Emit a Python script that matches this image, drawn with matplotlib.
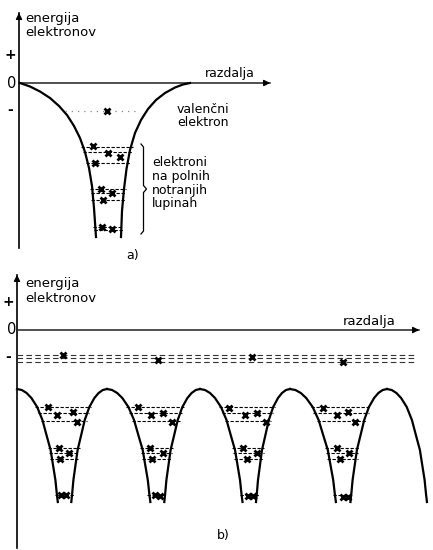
import numpy as np
import matplotlib
matplotlib.use("Agg")
import matplotlib.pyplot as plt

# ---------------- data (distance units, energy units; 0 = zero energy) ----------------
# panel a: single atom potential well
a_left_d = [0.1, 1.1, 2.1, 3.1, 4.0, 4.8, 5.5, 6.1, 6.6, 7.0, 7.3, 7.5, 7.7]
a_left_E = [0.0, -0.35, -0.85, -1.5, -2.3, -3.2, -4.3, -5.5, -6.9, -8.5, -10.3, -12.5, -15.4]
a_right_d = [10.2, 10.3, 10.5, 10.75, 11.1, 11.6, 12.2, 12.9, 13.7, 14.6, 15.6, 16.4, 17.1]
a_right_E = [-15.4, -12.8, -10.6, -8.6, -6.7, -5.0, -3.7, -2.6, -1.7, -1.0, -0.45, -0.15, 0.0]
a_valence_E = -2.8
a_valence_span = [4.6, 12.1]
a_valence_el = [8.8]
a_levels = [-6.4, -6.9, -8.0, -10.6, -11.0, -11.7, -14.4, -14.7]
a_el_d = [7.4, 8.9, 10.1, 7.6, 8.2, 9.3, 8.4, 8.3, 9.3]
a_el_E = [-6.3, -7.0, -7.4, -8.0, -10.6, -11.0, -11.7, -14.4, -14.6]

# panel b: periodic lattice potential
b_peaks = [0.0, 9.0, 18.3, 27.3, 37.0]
b_wells = [4.8, 14.1, 23.3, 32.7, 41.7]
b_prof_f = [0.15, 0.17, 0.20, 0.25, 0.30, 0.38, 0.47, 0.58, 0.70, 0.80, 0.90, 1.00]
b_prof_E = [-17.2, -16.4, -15.0, -13.5, -12.0, -10.6, -9.0, -7.7, -6.8, -6.3, -6.0, -5.9]
b_band_E = [-2.5, -2.8, -3.2]
b_band_span = [0.0, 39.8]
b_val_d = [4.6, 14.1, 23.5, 32.6]
b_val_E = [-2.5, -3.0, -2.7, -3.2]
b_levels = [-7.7, -8.3, -9.1, -11.8, -12.3, -12.9, -16.5]
b_el_d = [
    [3.1, 4.0, 5.6, 6.0, 4.2, 5.2, 4.3, 4.4, 4.9],
    [12.1, 13.4, 14.6, 15.5, 13.3, 14.6, 13.5, 13.8, 14.3],
    [21.2, 22.8, 24.0, 24.9, 22.6, 24.0, 23.0, 23.1, 23.6],
    [30.6, 32.0, 33.1, 33.8, 32.0, 33.2, 32.3, 32.6, 33.1],
]
b_el_E = [
    [-7.7, -8.5, -8.2, -9.2, -11.8, -12.3, -12.9, -16.5, -16.5],
    [-7.7, -8.5, -8.3, -9.2, -11.8, -12.3, -12.9, -16.5, -16.6],
    [-7.8, -8.5, -8.3, -9.2, -11.8, -12.3, -12.9, -16.6, -16.6],
    [-7.8, -8.5, -8.2, -9.2, -11.8, -12.3, -12.9, -16.7, -16.7],
]

# ---------------- figure ----------------
plt.rcParams['font.family'] = ['DejaVu Sans']
fig = plt.figure(figsize=(4.33, 5.5), dpi=100)
ax_a = fig.add_axes([0, 285 / 550, 1, 265 / 550])
ax_b = fig.add_axes([0, 0, 1, 285 / 550])
ax_a.set_xlim(-1.9, 41.4); ax_a.set_ylim(-18.2, 8.3)
ax_b.set_xlim(-1.7, 41.6); ax_b.set_ylim(-22.0, 6.5)
for ax in (ax_a, ax_b):
    ax.axis('off')

K = 'black'
EL = dict(marker='x', ms=5, mew=2.0, color=K, ls='none', zorder=5)
FS = 9


def axes_arrows(ax, ytop, ybot, xend):
    ax.plot([0, 0], [ybot, ytop - 0.3], color=K, lw=1.2)
    ax.annotate('', xy=(0, ytop), xytext=(0, ytop - 1.0),
                arrowprops=dict(arrowstyle='-|>', color=K, lw=1.0, mutation_scale=9))
    ax.plot([0, xend - 0.3], [0, 0], color='#222222', lw=1.1)
    ax.annotate('', xy=(xend, 0), xytext=(xend - 1.0, 0),
                arrowprops=dict(arrowstyle='-|>', color=K, lw=1.0, mutation_scale=9))


# ---------- panel a ----------
axes_arrows(ax_a, 7.3, -16.5, 25.4)
ax_a.plot(a_left_d, a_left_E, color=K, lw=1.6)
ax_a.plot(a_right_d, a_right_E, color=K, lw=1.6)
ax_a.plot(a_valence_span, [a_valence_E] * 2, color='#888888', lw=0.9, ls=(0, (1, 4)))
ax_a.plot(a_valence_el, [a_valence_E], **EL)
lE = np.array(a_left_E)[::-1]; lD = np.array(a_left_d)[::-1]
for lev in a_levels:
    x0 = np.interp(lev, lE, lD) - 0.2
    x1 = np.interp(lev, a_right_E, a_right_d) + 0.2
    ax_a.plot([x0, x1], [lev, lev], color=K, lw=0.8, ls=(0, (3, 1.5)))
ax_a.plot(a_el_d, a_el_E, **EL)

# brace
bt, bb = a_levels[0] + 0.2, a_levels[-1] - 0.3
bm = (bt + bb) / 2
bx = 12.45
ax_a.plot([bx - 0.25, bx, bx, bx + 0.3, bx, bx, bx - 0.25],
          [bt + 0.1, bt - 0.2, bm + 0.35, bm, bm - 0.35, bb + 0.2, bb - 0.1],
          color=K, lw=0.9)

ax_a.text(0.6, 7.1, 'energija\nelektronov', fontsize=9.5, va='top', ha='left', linespacing=1.15)
ax_a.text(-0.9, 2.8, '+', fontsize=10, fontweight='bold', ha='center', va='center')
ax_a.text(-0.7, 0.0, '0', fontsize=10.5, ha='center', va='center')
ax_a.text(-0.9, -2.7, '-', fontsize=10, fontweight='bold', ha='center', va='center')
ax_a.text(18.6, 0.55, 'razdalja', fontsize=FS, ha='left', va='baseline')
ax_a.text(15.8, -3.3, 'valenčni\nelektron', fontsize=FS, ha='left', va='center', linespacing=1.05)
ax_a.text(13.3, -7.3, 'elektroni\nna polnih\nnotranjih\nlupinah', fontsize=FS,
          ha='left', va='top', linespacing=1.08)
ax_a.text(11.4, -17.2, 'a)', fontsize=FS, ha='center', va='center')

# ---------- panel b ----------
axes_arrows(ax_b, 5.8, -21.8, 40.5)
for E in b_band_E:
    ax_b.plot(b_band_span, [E, E], color='#333333', lw=0.8, ls=(0, (5, 3)))
ax_b.plot(b_val_d, b_val_E, **EL)

f = np.array(b_prof_f); pE = np.array(b_prof_E)
for i, c in enumerate(b_wells):
    hl = c - b_peaks[i]
    ax_b.plot(c - f * hl, pE, color=K, lw=1.6)
    if i + 1 < len(b_peaks):
        hr = b_peaks[i + 1] - c
        ax_b.plot(c + f * hr, pE, color=K, lw=1.6)
        for lev in b_levels:
            fl = np.interp(lev, pE, f)
            ax_b.plot([c - fl * hl - 0.2, c + fl * hr + 0.2], [lev, lev],
                      color=K, lw=0.8, ls=(0, (3, 1.5)))
for dd, ee in zip(b_el_d, b_el_E):
    ax_b.plot(dd, ee, **EL)

ax_b.text(0.8, 5.3, 'energija\nelektronov', fontsize=9.5, va='top', ha='left', linespacing=1.15)
ax_b.text(-0.9, 2.8, '+', fontsize=10, fontweight='bold', ha='center', va='center')
ax_b.text(-0.5, 0.0, '0', fontsize=10.5, ha='center', va='center')
ax_b.text(-0.9, -2.7, '-', fontsize=10, fontweight='bold', ha='center', va='center')
ax_b.text(32.6, 0.5, 'razdalja', fontsize=9.5, ha='left', va='baseline')
ax_b.text(20.6, -20.5, 'b)', fontsize=FS, ha='center', va='center')

fig.savefig('out.png', dpi=100)
